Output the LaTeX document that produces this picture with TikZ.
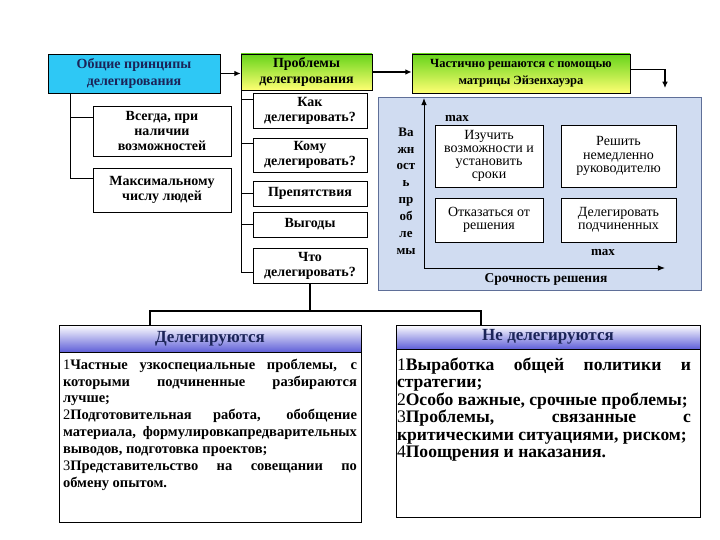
\documentclass[tikz,border=0pt]{standalone}
\usepackage{fontspec}
\setmainfont{Liberation Serif}
\usetikzlibrary{arrows.meta, positioning}
\definecolor{cnavy}{HTML}{1B2458}
\definecolor{ccyan}{HTML}{2EC8F5}
\definecolor{cgreen}{HTML}{66D41A}
\definecolor{cyellow}{HTML}{FFFF73}
\definecolor{cpanel}{HTML}{D0DCF1}
\definecolor{cpanelbd}{HTML}{5F6F98}
\definecolor{chead}{HTML}{5F5FD8}
\tikzset{
  every picture/.style={line width=0.8pt},
  box/.style={draw=black, fill=white, align=center, inner sep=0pt, font=\bfseries\fontsize{14}{15}\selectfont},
  greenbox/.style={box, top color=cgreen, bottom color=cyellow},
  cell/.style={draw=black, fill=white, align=center, inner sep=0pt, font=\fontsize{14}{13.2}\selectfont},
  headbox/.style={draw=black, top color=white, bottom color=chead, inner sep=0pt, text=cnavy, font=\bfseries\fontsize{17}{18}\selectfont},
  bodybox/.style={draw=black, fill=white, inner sep=0pt},
  bodytext/.style 2 args={align=justify, inner sep=0pt, font=\bfseries\fontsize{#1}{#2}\selectfont},
  lbl/.style={inner sep=0pt, font=\bfseries\fontsize{13}{13}\selectfont},
  link/.style={line width=1.6pt},
  arrow/.style={link, -{Latex[length=2.2mm, width=2mm]}},
  axis/.style={line width=1pt, -{Latex[length=2.5mm, width=2mm]}},
}
\newcommand{\nr}[1]{{\mdseries #1}}

\begin{document}
\begin{tikzpicture}[x=1pt, y=-1pt]
  \useasboundingbox (0,0) rectangle (720,540);
  % top row
  \node[box, fill=ccyan, text=cnavy, font=\bfseries\fontsize{14}{17}\selectfont, minimum width=172pt, minimum height=39pt] (general) at (134,73.5) {Общие принципы\\делегирования};
  \node[greenbox, font=\bfseries\fontsize{14}{16}\selectfont, minimum width=131pt, minimum height=36pt] (problems) at (306.5,72) {Проблемы\\делегирования};
  \node[greenbox, font=\bfseries\fontsize{12.5}{17}\selectfont, minimum width=218pt, minimum height=39pt] (partial) at (521,73.5) {Частично решаются с помощью\\матрицы Эйзенхауэра};
  \draw[arrow] (general.east) -- (general.east -| problems.west);
  \draw[arrow] (problems.east) -- (problems.east -| partial.west);

  % principles
  \node[box, minimum width=138pt, minimum height=50pt] (always) at (162,131) {Всегда, при\\наличии\\возможностей};
  \node[box, minimum width=138pt, minimum height=44pt] (maxppl) at (162,190) {Максимальному\\числу людей};
  \draw ([xshift=23pt]general.south west) |- ([yshift=14pt]always.west);
  \draw ([xshift=23pt]general.south west) |- ([yshift=12pt]maxppl.west);

  % problem list
  \node[box, minimum width=114pt, minimum height=35pt] (how) at (310,110.5) {Как\\делегировать?};
  \node[box, minimum width=114pt, minimum height=34pt] (whom) at (310,155) {Кому\\делегировать?};
  \node[box, minimum width=114pt, minimum height=25pt] (obst) at (310,193.5) {Препятствия};
  \node[box, minimum width=114pt, minimum height=25pt] (gain) at (310,224.5) {Выгоды};
  \node[box, minimum width=114pt, minimum height=35pt] (what) at (310,265.5) {Что\\делегировать?};
  \foreach \n/\s in {how/11.5, whom/12, obst/0, gain/0, what/-6.5}
    \draw ([xshift=1pt]problems.south west) |- ([yshift=\s pt]\n.west);

  % Eisenhower matrix
  \node[draw=cpanelbd, fill=cpanel, inner sep=0pt, minimum width=323pt, minimum height=193pt] (panel) at (539.5,193.5) {};
  \coordinate (drop) at (665,88);
  \draw[arrow] ([yshift=4pt]partial.east) -| (drop);
  \coordinate (orig) at (424,268);
  \coordinate (ytop) at (424,98);
  \coordinate (xend) at (665,268);
  \draw[axis] (orig) -- (ytop);
  \draw[axis] (orig) -- (xend);
  \node[cell, minimum width=108pt, minimum height=62pt] (study) at (489,156) {Изучить\\возможности и\\установить\\сроки};
  \node[cell, minimum width=115pt, minimum height=62pt] (now) at (618.5,156) {Решить\\немедленно\\руководителю};
  \node[cell, minimum width=108pt, minimum height=44pt] (refuse) at (489,220) {Отказаться от\\решения};
  \node[cell, minimum width=115pt, minimum height=44pt] (deleg) at (618.5,220) {Делегировать\\подчиненных};
  \node[lbl] (maxy) at (457,119) {max};
  \node[lbl] (maxx) at (603,253) {max};
  \node[lbl, font=\bfseries\fontsize{13.5}{15}\selectfont] (urgency) at (546,279) {Срочность решения};
  \node[lbl, align=center, font=\bfseries\fontsize{13}{16.9}\selectfont] (importance) at (406,191) {Ва\\жн\\ост\\ь\\пр\\об\\ле\\мы};

  % what goes to whom
  \node[headbox, minimum width=302pt, minimum height=27pt] (delhead) at (210,338.5) {Делегируются};
  \node[bodybox, minimum width=302pt, minimum height=170pt, anchor=north] (delbody) at (delhead.south) {};
  \node[bodytext={14.5}{16.9}, text width=294pt, anchor=north west] (deltext) at ([xshift=4pt, yshift=-6pt]delbody.north west) {%
    \nr{1}Частные узкоспециальные проблемы, с\linebreak которыми подчиненные разбираются\linebreak лучше;\\
    \nr{2}Подготовительная работа, обобщение\linebreak материала, формулировкапредварительных\linebreak выводов, подготовка проектов;\\
    \nr{3}Представительство на совещании по\linebreak обмену опытом.};
  \node[headbox, minimum width=304pt, minimum height=24pt] (nodelhead) at (548,337) {Не делегируются};
  \node[bodybox, minimum width=304pt, minimum height=168pt, anchor=north] (nodelbody) at (nodelhead.south) {};
  \node[bodytext={17.6}{17.5}, text width=294pt, anchor=north west] (nodeltext) at ([xshift=1pt, yshift=-8pt]nodelbody.north west) {%
    \nr{1}Выработка общей политики и\linebreak стратегии;\\
    \nr{2}Особо важные, срочные проблемы;\\
    \nr{3}Проблемы, связанные с\linebreak критическими ситуациями, риском;\\
    \nr{4}Поощрения и наказания.};
  \coordinate (fork) at (310,311);
  \draw[link] (what.south) -- (fork);
  \draw[link] (fork) -| ([xshift=-60pt]delhead.north);
  \draw[link] (fork) -| ([xshift=-67pt]nodelhead.north);
\end{tikzpicture}
\end{document}
